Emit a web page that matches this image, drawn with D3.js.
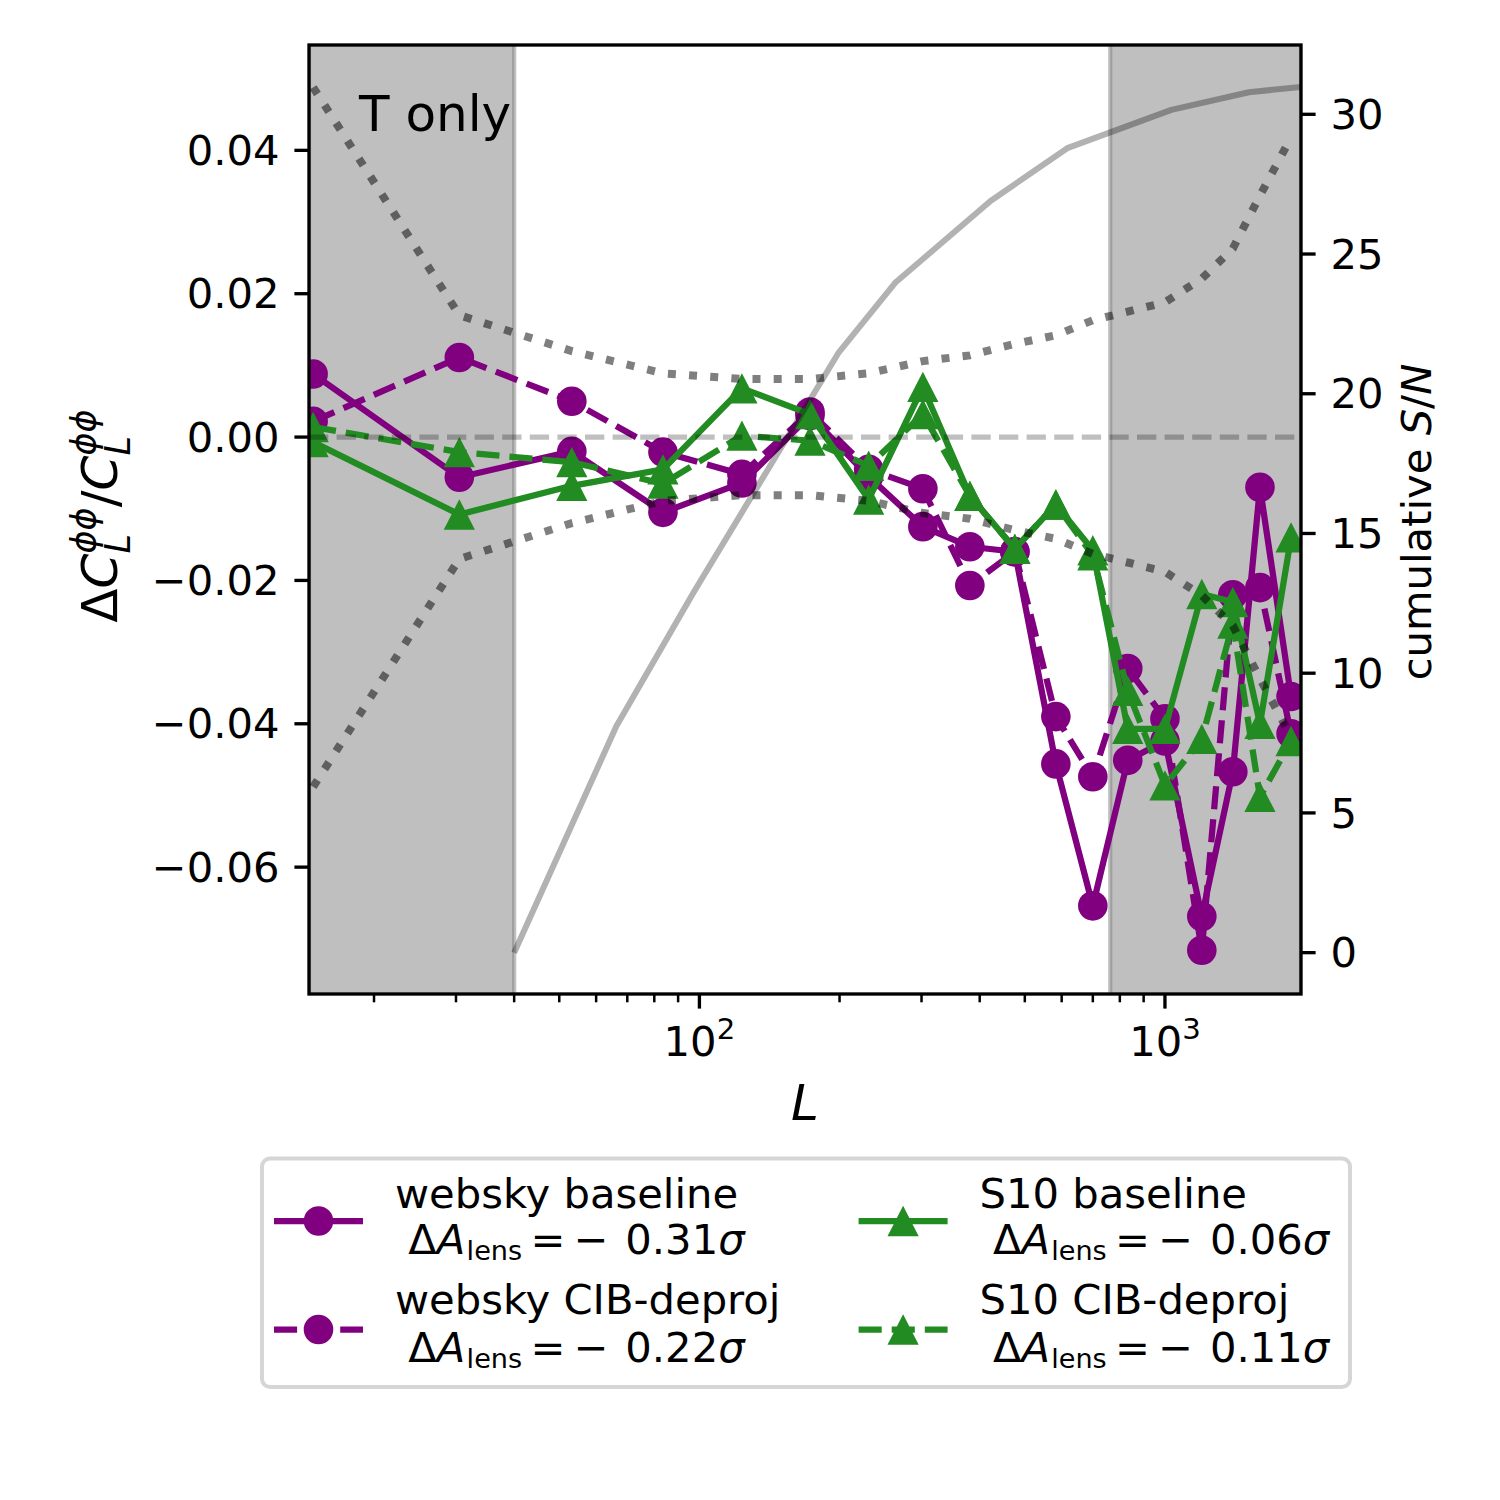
<!DOCTYPE html>
<html><head><meta charset="utf-8">
<script src="https://cdn.jsdelivr.net/npm/d3@7"></script>
<style>body{margin:0;background:#fff} svg{display:block} text{font-family:"DejaVu Sans",sans-serif;fill:#000}</style>
</head><body><svg id="c" width="1500" height="1500"></svg>
<script>
// ---------- data ----------
const Lbins = [14.8, 30.5, 53.2, 83.5, 123.4, 172.8, 231, 302, 381, 476, 583, 700, 832, 1000, 1200, 1399, 1600, 1866];
const webskyBaseline = [0.0088, -0.0056, -0.0020, -0.0105, -0.0064, 0.0030, -0.0055, -0.0125, -0.0153, -0.0160, -0.0456, -0.0654, -0.0451, -0.0424, -0.0669, -0.0467, -0.0070, -0.0362];
const webskyDeproj   = [0.0022, 0.0111, 0.0050, -0.0021, -0.0052, 0.0035, -0.0045, -0.0072, -0.0207, -0.0160, -0.0390, -0.0474, -0.0323, -0.0393, -0.0716, -0.0220, -0.0210, -0.0414];
const s10Baseline    = [-0.0007, -0.0108, -0.0068, -0.0045, 0.0068, 0.0032, -0.0087, 0.0070, -0.0082, -0.0156, -0.0094, -0.0158, -0.0407, -0.0407, -0.0219, -0.0230, -0.0400, -0.0140];
const s10Deproj      = [0.0014, -0.0021, -0.0035, -0.0065, 0.0002, -0.0005, -0.0040, 0.0032, -0.0082, -0.0156, -0.0094, -0.0165, -0.0354, -0.0486, -0.0421, -0.0260, -0.0502, -0.0424];
const sigmaBand      = [0.0488, 0.0170, 0.0120, 0.0089, 0.0081, 0.0081, 0.0089, 0.0106, 0.0114, 0.0130, 0.0142, 0.0163, 0.0175, 0.0188, 0.0221, 0.0263, 0.0337, 0.0418];
const snL   = [40, 66.3, 97.2, 198.7, 263.3, 422, 619, 1032, 1515, 1907, 1960];
const snCum = [0, 8.1, 12.9, 21.45, 23.97, 26.9, 28.8, 30.16, 30.79, 30.96, 30.98];
const maskLow = 40, maskHigh = 763;
const xDomain = [14.5, 1960];
const yDomain = [-0.0777, 0.0547];
const y2Domain = [-1.48, 32.48];
const leftTicks = [-0.06, -0.04, -0.02, 0.00, 0.02, 0.04];
const rightTicks = [0, 5, 10, 15, 20, 25, 30];
const xMajorTicks = [100, 1000];
const xMinorTicks = [20, 30, 40, 50, 60, 70, 80, 90, 200, 300, 400, 500, 600, 700, 800, 900];
const seriesNames = ["websky baseline", "websky CIB-deproj", "S10 baseline", "S10 CIB-deproj"];
const seriesShift = ["0.31", "0.22", "0.06", "0.11"];
const panelTitle = "T only";

// ---------- styles ----------
const PURPLE = "#800080", GREEN = "#228B22";
const seriesStyle = [
  {c: PURPLE, m: "o", dash: null},
  {c: PURPLE, m: "o", dash: "23.1 10"},
  {c: GREEN,  m: "^", dash: null},
  {c: GREEN,  m: "^", dash: "23.1 10"}
];
const seriesData = [webskyBaseline, webskyDeproj, s10Baseline, s10Deproj];

const P = {l: 309, r: 1301, t: 45, b: 994};
const FS = 41.7, FL = 50;

const svg = d3.select("#c");
const x = d3.scaleLog().domain(xDomain).range([P.l, P.r]);
const y = d3.scaleLinear().domain(yDomain).range([P.b, P.t]);
const y2 = d3.scaleLinear().domain(y2Domain).range([P.b, P.t]);

svg.append("defs").append("clipPath").attr("id", "clip")
  .append("rect").attr("x", P.l).attr("y", P.t).attr("width", P.r - P.l).attr("height", P.b - P.t);

const plot = svg.append("g").attr("clip-path", "url(#clip)");

// shaded masked ranges
[[xDomain[0], maskLow], [maskHigh, xDomain[1]]].forEach(([a, b]) => {
  plot.append("rect").attr("x", x(a)).attr("y", P.t - 10).attr("width", x(b) - x(a)).attr("height", P.b - P.t + 20)
    .attr("fill", "#808080").attr("fill-opacity", 0.5)
    .attr("stroke", "#808080").attr("stroke-opacity", 0.5).attr("stroke-width", 4.2);
});

// series
const tri = "M0,-15.2L15.6,15.2L-15.6,15.2Z";
seriesData.forEach((vals, i) => {
  const st = seriesStyle[i];
  const pts = Lbins.map((L, j) => [x(L), y(vals[j])]);
  plot.append("path").attr("d", d3.line()(pts)).attr("fill", "none")
    .attr("stroke", st.c).attr("stroke-width", 6.25).attr("stroke-linejoin", "round")
    .attr("stroke-dasharray", st.dash);
  pts.forEach(p => {
    if (st.m === "o") plot.append("circle").attr("cx", p[0]).attr("cy", p[1]).attr("r", 14.8).attr("fill", st.c);
    else plot.append("path").attr("d", tri).attr("transform", `translate(${p[0]},${p[1]})`).attr("fill", st.c);
  });
});

// zero line
plot.append("line").attr("x1", P.l).attr("x2", P.r).attr("y1", y(0)).attr("y2", y(0))
  .attr("stroke", "#000").attr("stroke-opacity", 0.25).attr("stroke-width", 5.2).attr("stroke-dasharray", "19.3 8.3");

// ±sigma dotted
[1, -1].forEach(s => {
  const pts = Lbins.map((L, j) => [x(L), y(s * sigmaBand[j])]);
  plot.append("path").attr("d", d3.line()(pts)).attr("fill", "none")
    .attr("stroke", "#000").attr("stroke-opacity", 0.5).attr("stroke-width", 8).attr("stroke-dasharray", "8 13.2");
});

// cumulative S/N
plot.append("path").attr("d", d3.line()(snL.map((L, j) => [x(L), y2(snCum[j])]))).attr("fill", "none")
  .attr("stroke", "#000").attr("stroke-opacity", 0.3).attr("stroke-width", 6).attr("stroke-linejoin", "round");

// ---------- rich text helper ----------
function rich(parent, pieces, size) {
  const g = parent.append("g");
  let cx = 0, lastStart = 0, lastEnd = 0;
  pieces.forEach(p => {
    const fs = size * (p.sc || 1);
    const start = p.stack ? lastStart : cx + (p.gap || 0) * size;
    const t = g.append("text").attr("x", start).attr("y", -(p.dy || 0) * size)
      .attr("font-size", fs).attr("font-style", p.it ? "italic" : "normal").text(p.t);
    const w = t.node().getComputedTextLength();
    const end = start + w;
    lastEnd = p.stack ? Math.max(lastEnd, end) : end;
    lastStart = start;
    cx = lastEnd;
  });
  return {g, w: cx};
}

// ---------- axes ----------
const ax = svg.append("g");
ax.append("rect").attr("x", P.l).attr("y", P.t).attr("width", P.r - P.l).attr("height", P.b - P.t)
  .attr("fill", "none").attr("stroke", "#000").attr("stroke-width", 3.33);

leftTicks.forEach(v => {
  ax.append("line").attr("x1", P.l).attr("x2", P.l - 14.6).attr("y1", y(v)).attr("y2", y(v)).attr("stroke", "#000").attr("stroke-width", 3.33);
  ax.append("text").attr("x", P.l - 29.5).attr("y", y(v)).attr("dy", "0.35em").attr("text-anchor", "end")
    .attr("font-size", FS).text(d3.format(".2f")(v).replace("-", "−"));
});
rightTicks.forEach(v => {
  ax.append("line").attr("x1", P.r).attr("x2", P.r + 14.6).attr("y1", y2(v)).attr("y2", y2(v)).attr("stroke", "#000").attr("stroke-width", 3.33);
  ax.append("text").attr("x", P.r + 29.5).attr("y", y2(v)).attr("dy", "0.35em").attr("text-anchor", "start")
    .attr("font-size", FS).text(String(v));
});
xMinorTicks.forEach(v => {
  ax.append("line").attr("x1", x(v)).attr("x2", x(v)).attr("y1", P.b).attr("y2", P.b + 8.3).attr("stroke", "#000").attr("stroke-width", 2.5);
});
xMajorTicks.forEach(v => {
  ax.append("line").attr("x1", x(v)).attr("x2", x(v)).attr("y1", P.b).attr("y2", P.b + 14.6).attr("stroke", "#000").attr("stroke-width", 3.33);
  const e = Math.round(Math.log10(v));
  const r = rich(ax, [{t: "10"}, {t: String(e), sc: 0.7, dy: 0.4}], FS);
  r.g.attr("transform", `translate(${x(v) - r.w / 2},1056)`);
});

// axis labels
{
  const r = rich(svg, [{t: "L", it: true}], FL);
  r.g.attr("transform", `translate(${(P.l + P.r) / 2 - r.w / 2},1120)`);
}
{
  const r = rich(svg, [{t: "Δ"}, {t: "C", it: true}, {t: "ϕϕ", it: true, sc: 0.7, dy: 0.42}, {t: "L", it: true, sc: 0.7, dy: -0.25, stack: true},
    {t: "/"}, {t: "C", it: true}, {t: "ϕϕ", it: true, sc: 0.7, dy: 0.42}, {t: "L", it: true, sc: 0.7, dy: -0.25, stack: true}], FL);
  r.g.attr("transform", `translate(117,${516 + r.w / 2}) rotate(-90)`);
}
{
  const r = rich(svg, [{t: "cumulative"}, {t: "S", it: true, gap: 0.318}, {t: "/"}, {t: "N", it: true}], FS);
  r.g.attr("transform", `translate(1431,${522 + r.w / 2}) rotate(-90)`);
}

// panel title
svg.append("text").attr("x", 359).attr("y", 131).attr("font-size", FL).text(panelTitle);

// ---------- legend ----------
const lg = svg.append("g");
lg.append("rect").attr("x", 262).attr("y", 1158.5).attr("width", 1088).attr("height", 228.5).attr("rx", 8)
  .attr("fill", "#fff").attr("stroke", "#d6d6d6").attr("stroke-width", 4);
const colX = [274, 858.6];
const rowHandleY = [1221, 1329.5];
const rowBase1 = [1208, 1314];
const rowBase2 = [1254, 1362];
seriesNames.forEach((name, i) => {
  const col = Math.floor(i / 2), row = i % 2;
  const st = seriesStyle[i];
  const hx = colX[col], hy = rowHandleY[row];
  lg.append("line").attr("x1", hx).attr("x2", hx + 89).attr("y1", hy).attr("y2", hy)
    .attr("stroke", st.c).attr("stroke-width", 6.25).attr("stroke-dasharray", st.dash);
  if (st.m === "o") lg.append("circle").attr("cx", hx + 44.5).attr("cy", hy).attr("r", 14.8).attr("fill", st.c);
  else lg.append("path").attr("d", tri).attr("transform", `translate(${hx + 44.5},${hy})`).attr("fill", st.c);
  const tx = hx + 121;
  lg.append("text").attr("x", tx).attr("y", rowBase1[row]).attr("font-size", FS).text(name);
  const r = rich(lg, [{t: "Δ"}, {t: "A", it: true}, {t: "lens", sc: 0.65, dy: -0.15, gap: 0.03},
    {t: "=", gap: 0.2}, {t: "−", gap: 0.2}, {t: seriesShift[i], gap: 0.4}, {t: "σ", it: true}], FS);
  r.g.attr("transform", `translate(${tx + 13.3},${rowBase2[row]})`);
});
</script></body></html>
